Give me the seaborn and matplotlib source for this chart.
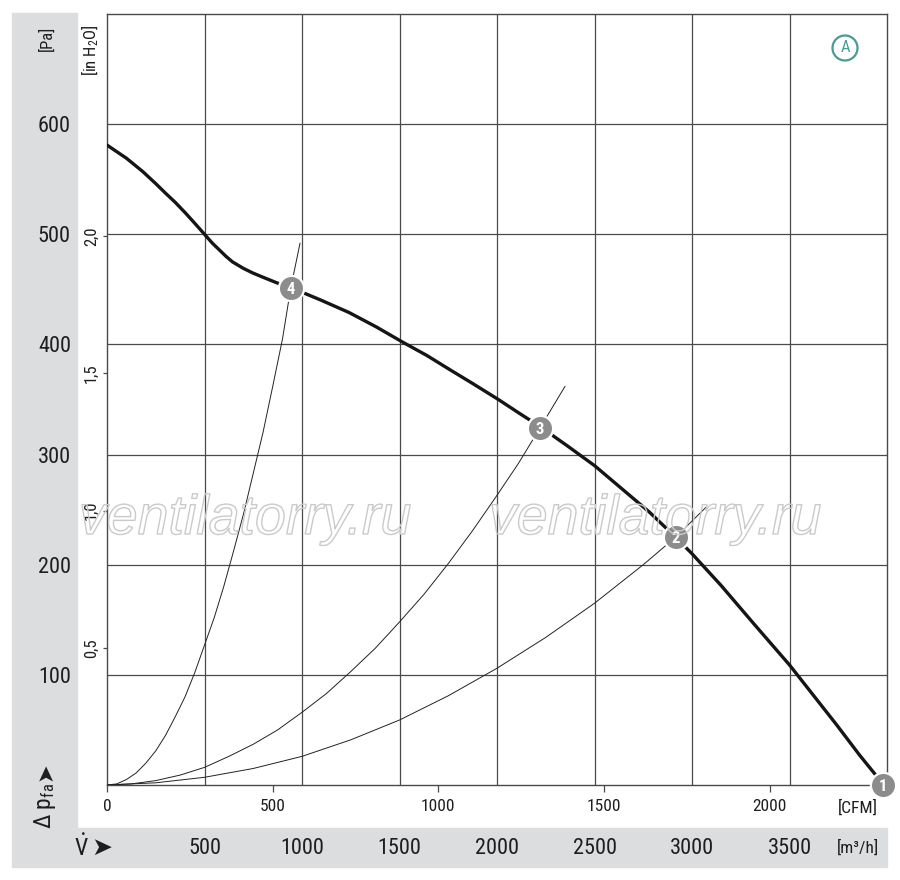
import numpy as np
import pandas as pd
import matplotlib
matplotlib.use("Agg")
import matplotlib.pyplot as plt
import matplotlib.patheffects as pe
from matplotlib import font_manager as fm
from matplotlib.patches import Rectangle
import seaborn as sns

# ---------------- data ----------------
fan_flow = [0, 50, 100, 183, 250, 302, 350, 404, 450, 500, 540, 575, 610, 643, 700, 746,
            800, 870, 942, 1019, 1100, 1241, 1380, 1517, 1640, 1759, 1880, 2007, 2110,
            2224, 2360, 2500, 2640, 2780, 2916, 3000, 3150, 3314, 3500, 3620, 3740,
            3860, 3947, 3978]
fan_pa = [581, 575, 569, 557, 546, 537, 529, 519, 510, 500, 492, 486, 480, 475, 469, 465,
          461, 456, 451, 446, 440, 429, 416, 402, 390, 377, 364, 350, 338,
          325, 308, 290, 269, 248, 225, 210, 181, 147, 109, 82, 55,
          27, 8, 0]

sys4_flow = [0, 50, 100, 150, 200, 250, 300, 350, 400, 450, 500, 550, 600, 650,
             700, 750, 800, 850, 900, 942, 990]
sys4_pa = [0, 1, 5, 11, 20, 31, 45, 62, 80, 102, 127, 152, 181, 213,
           246, 283, 320, 362, 405, 451, 492]

sys3_flow = [0, 125, 250, 375, 500, 625, 750, 875, 1000, 1125, 1250, 1375, 1500,
             1625, 1750, 1875, 2000, 2110, 2220, 2349]
sys3_pa = [0, 1, 4, 9, 16, 26, 37, 50, 66, 83, 103, 124, 148,
           173, 201, 231, 263, 292, 324, 362]

sys2_flow = [0, 250, 500, 750, 1000, 1250, 1500, 1750, 2000, 2250, 2500, 2750, 2916, 3071]
sys2_pa = [0, 2, 7, 15, 26, 41, 59, 81, 106, 134, 165, 200, 225, 252]

point_flow = [3978, 2916, 2220, 942]
point_pa = [0, 225, 324, 451]
point_labels = ["1", "2", "3", "4"]

m3h_ticks = [500, 1000, 1500, 2000, 2500, 3000, 3500]
pa_ticks = [100, 200, 300, 400, 500, 600]
cfm_ticks = [0, 500, 1000, 1500, 2000]
inh2o_ticks = [0.5, 1.0, 1.5, 2.0]
inh2o_labels = ["0,5", "1,0", "1,5", "2,0"]

# ---------------- style ----------------
sns.set_style("white")
avail = {f.name for f in fm.fontManager.ttflist}
cond = next((f for f in ["Liberation Sans Narrow", "Roboto Condensed", "Liberation Sans"]
             if f in avail), "DejaVu Sans")
plt.rcParams["font.family"] = [cond, "DejaVu Sans"]
plt.rcParams["mathtext.fontset"] = "custom"
plt.rcParams["mathtext.rm"] = cond
plt.rcParams["mathtext.it"] = cond
plt.rcParams["mathtext.bf"] = cond

W, H = 900, 880
def fx(px):
    return px / W
def fy(py):
    return 1 - py / H

fig = plt.figure(figsize=(W / 100, H / 100), dpi=100)
fig.patch.set_facecolor("white")

band = "#dcdddf"
fig.patches.append(Rectangle((fx(12), fy(828)), fx(77) - fx(12), fy(13) - fy(828),
                             transform=fig.transFigure, color=band, zorder=-5))
fig.patches.append(Rectangle((fx(12), fy(867)), fx(887) - fx(12), fy(828) - fy(867),
                             transform=fig.transFigure, color=band, zorder=-5))

ax = fig.add_axes([fx(107), fy(785), fx(887) - fx(107), fy(14) - fy(785)])
ax.set_facecolor("white")
ax.set_xlim(0, 4000)
ax.set_ylim(0, 700)

gridc = "#4a4a4a"
txtc = "#1e1e1e"

# CFM secondary axis
secx = ax.secondary_xaxis("bottom", functions=(lambda v: v / 1.699, lambda c: c * 1.699))
secx.set_xticks(cfm_ticks)
secx.set_xticklabels([str(t) for t in cfm_ticks])
secx.tick_params(axis="x", length=5, width=0.9, color=gridc, pad=5, labelsize=12.5, colors=txtc)
for s in secx.spines.values():
    s.set_visible(False)

# in H2O secondary axis
secy = ax.secondary_yaxis("left", functions=(lambda p: p / 249.09, lambda i: i * 249.09))
secy.set_yticks(inh2o_ticks)
secy.set_yticklabels(inh2o_labels, rotation=90, va="center")
secy.tick_params(axis="y", length=3, width=0.9, color=gridc, pad=3, labelsize=12, colors=txtc)
for s in secy.spines.values():
    s.set_visible(False)

# primary ticks (m3/h in the band, Pa on the left)
ax.set_xticks(m3h_ticks)
ax.set_xticklabels([str(t) for t in m3h_ticks])
ax.set_yticks(pa_ticks)
ax.set_yticklabels([str(t) for t in pa_ticks])
ax.grid(True, color=gridc, linewidth=0.9)
ax.tick_params(axis="x", bottom=True, labelbottom=True, top=False, labeltop=False,
               length=0, pad=38, labelsize=16, colors=txtc)
ax.tick_params(axis="y", left=True, labelleft=True, right=False, labelright=False,
               length=0, pad=26, labelsize=16, colors=txtc)
for s in ax.spines.values():
    s.set_color(gridc)
    s.set_linewidth(1.0)

# curves
thin = "#222222"
sns.lineplot(x=sys4_flow, y=sys4_pa, ax=ax, color=thin, linewidth=0.7, sort=False, estimator=None, zorder=3)
sns.lineplot(x=sys3_flow, y=sys3_pa, ax=ax, color=thin, linewidth=0.7, sort=False, estimator=None, zorder=3)
sns.lineplot(x=sys2_flow, y=sys2_pa, ax=ax, color=thin, linewidth=0.7, sort=False, estimator=None, zorder=3)
sns.lineplot(x=fan_flow, y=fan_pa, ax=ax, color="#151515", linewidth=2.4, sort=False, estimator=None, zorder=4)

sns.scatterplot(x=point_flow, y=point_pa, ax=ax, s=330, color="#8c8c8c", edgecolor="white",
                linewidth=1.6, zorder=6, clip_on=False, legend=False)
for xv, yv, lab in zip(point_flow, point_pa, point_labels):
    ax.text(xv, yv, lab, color="white", fontsize=12, fontweight="bold", ha="center",
            va="center_baseline", zorder=7, clip_on=False)

# watermark (outlined text)
for cx in (245, 655):
    fig.text(fx(cx), fy(520), "ventilatorry.ru", fontsize=40, style="italic",
             family=["Liberation Sans", "DejaVu Sans"], ha="center", va="center",
             color=(1, 1, 1, 0), zorder=10,
             path_effects=[pe.Stroke(linewidth=1.0, foreground="#cacaca")])

# badge A
teal = "#4c9a96"
fig.text(fx(845), fy(48), "A", fontsize=12, color=teal, ha="center", va="center",
         bbox=dict(boxstyle="circle,pad=0.3", fc="white", ec=teal, lw=1.6))

# axis unit labels
fig.text(fx(47), fy(38), "[Pa]", rotation=90, fontsize=12, color=txtc, ha="center", va="center")
fig.text(fx(90), fy(50), r"[in H$_\mathregular{2}$O]", rotation=90, fontsize=12, color=txtc,
         ha="center", va="center")
fig.text(fx(45), fy(806), r"$\Delta$ p$_\mathregular{fa}$", rotation=90, fontsize=17, color=txtc,
         ha="center", va="center")
fig.text(fx(45), fy(772), "➤", rotation=90, fontsize=16, color=txtc, family="DejaVu Sans",
         ha="center", va="center")
fig.text(fx(81), fy(848), r"$\dot{\mathrm{V}}$", fontsize=17, color=txtc, ha="center", va="center")
fig.text(fx(102), fy(848), "➤", fontsize=18, color=txtc, family="DejaVu Sans",
         ha="center", va="center")
fig.text(fx(858), fy(808), "[CFM]", fontsize=12.5, color=txtc, ha="center", va="center")
fig.text(fx(858), fy(848), "[m³/h]", fontsize=12.5, color=txtc, ha="center", va="center")

fig.savefig("out.png", dpi=100, facecolor="white")
